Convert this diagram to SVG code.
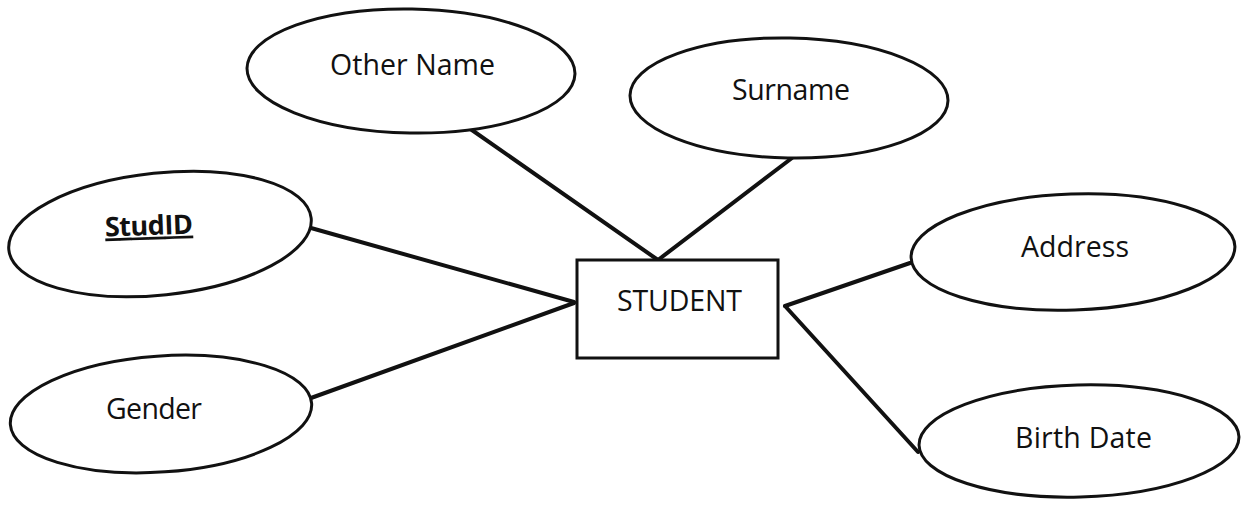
<svg xmlns="http://www.w3.org/2000/svg" width="1242" height="506" viewBox="0 0 1242 506">
  <style>
    .attr { fill: #ffffff; stroke: #111111; stroke-width: 3; }
    .ent { fill: #ffffff; stroke: #111111; stroke-width: 3; }
    .lbl { font-family: "Open Sans", "Noto Sans", "DejaVu Sans", sans-serif; font-size: 28.5px; fill: #111111; }
    .key { font-weight: bold; font-size: 27px; text-decoration: underline; }
    .conn { stroke: #111111; stroke-width: 4; stroke-linecap: round; fill: none; }
  </style>
  <rect width="1242" height="506" fill="#ffffff"/>
  <g id="connectors">
    <line class="conn" x1="469" y1="128" x2="658" y2="260"/>
    <line class="conn" x1="792" y1="158" x2="658" y2="260"/>
    <line class="conn" x1="311" y1="228" x2="574" y2="302"/>
    <line class="conn" x1="311" y1="398" x2="574" y2="303"/>
    <line class="conn" x1="910" y1="263" x2="785" y2="306"/>
    <line class="conn" x1="785" y1="306" x2="918" y2="452"/>
  </g>
  <g id="node-othername">
    <ellipse class="attr" cx="411" cy="71" rx="164" ry="62" transform="rotate(1 411 71)"/>
    <text class="lbl" x="330" y="75" textLength="165">Other Name</text>
  </g>
  <g id="node-surname">
    <ellipse class="attr" cx="789" cy="98" rx="159" ry="60" transform="rotate(1 789 98)"/>
    <text class="lbl" x="732" y="100" textLength="118">Surname</text>
  </g>
  <g id="node-studid">
    <ellipse class="attr" cx="160" cy="234" rx="152" ry="61" transform="rotate(-6 160 234)"/>
    <text class="lbl key" x="105" y="235" textLength="88" transform="rotate(-2 149 230)">StudID</text>
  </g>
  <g id="node-gender">
    <ellipse class="attr" cx="161" cy="414" rx="151" ry="58" transform="rotate(-4 161 414)"/>
    <text class="lbl" x="106" y="419" textLength="96">Gender</text>
  </g>
  <g id="node-student">
    <rect class="ent" x="577" y="260" width="201" height="98"/>
    <text class="lbl" x="617" y="311" textLength="125">STUDENT</text>
  </g>
  <g id="node-address">
    <ellipse class="attr" cx="1073" cy="252" rx="162" ry="58" transform="rotate(-2 1073 252)"/>
    <text class="lbl" x="1021" y="257" textLength="108">Address</text>
  </g>
  <g id="node-birthdate">
    <ellipse class="attr" cx="1079" cy="441" rx="160" ry="56" transform="rotate(-1.5 1079 441)"/>
    <text class="lbl" x="1015" y="448" textLength="137">Birth Date</text>
  </g>
</svg>
